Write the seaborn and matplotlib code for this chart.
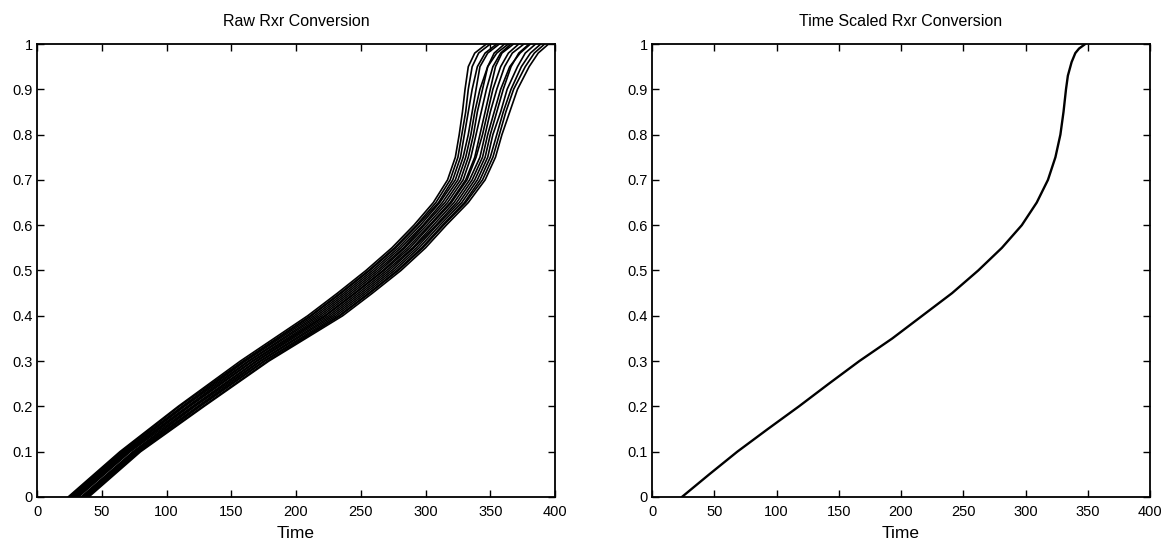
import numpy as np
import pandas as pd
import matplotlib
matplotlib.use('Agg')
import matplotlib.pyplot as plt
import seaborn as sns

# ---------- data ----------
# conversion levels at which each run's time was read
conv_levels = [0.0, 0.1, 0.2, 0.3, 0.4, 0.45, 0.5, 0.55, 0.6, 0.65,
               0.7, 0.75, 0.8, 0.85, 0.9, 0.95, 0.98, 1.0]

# raw runs (time to reach each conversion level)
raw_times = [
    [24, 64, 109, 157, 209, 232, 254, 274, 291, 306, 317, 323, 326, 328.5, 330.5, 333, 338, 347],
    [25, 65, 110, 159, 211, 234, 256, 276, 293, 308, 319, 325, 328, 331, 333, 336, 341, 350],
    [26, 66, 112, 160, 212, 235, 257, 277, 294, 310, 321, 327, 330, 333, 336, 340, 346, 355],
    [27, 67, 113, 161, 214, 237, 259, 279, 296, 311, 323, 329, 333, 336, 339, 342, 348, 357],
    [28, 68, 114, 163, 216, 239, 261, 281, 298, 313, 325, 331, 335, 338, 342, 348, 355, 364],
    [29, 69, 116, 164, 218, 241, 263, 283, 299, 315, 327, 333, 337, 340, 344, 348, 353, 361],
    [30, 70, 117, 166, 220, 243, 265, 284, 301, 317, 329, 335, 339, 343, 347, 352, 358, 366],
    [31, 71, 118, 167, 222, 245, 267, 286, 303, 319, 331, 338, 342, 346, 350, 354, 359, 368],
    [32, 72, 120, 169, 223, 246, 268, 288, 304, 320, 332, 339, 344, 348, 352, 358, 364, 372],
    [34, 74, 121, 170, 225, 248, 270, 290, 306, 322, 334, 342, 346, 350, 355, 361, 367, 376],
    [35, 75, 122, 172, 227, 250, 272, 291, 308, 324, 336, 344, 348, 353, 358, 365, 373, 381],
    [36, 76, 124, 173, 229, 252, 274, 293, 309, 326, 338, 346, 350, 355, 360, 366, 372, 380],
    [37, 77, 125, 175, 231, 254, 276, 295, 311, 328, 340, 348, 352, 358, 363, 371, 377, 385],
    [38, 78, 126, 176, 233, 256, 278, 297, 313, 330, 342, 350, 355, 360, 366, 374, 381, 389],
    [39, 79, 128, 178, 234, 257, 279, 298, 314, 331, 344, 352, 357, 362, 368, 377, 384, 392],
    [40, 80, 129, 179, 236, 259, 281, 300, 316, 333, 346, 354, 359, 365, 371, 380, 387, 395],
]

# time scaled (reference) curve
scaled_conv = [0.0, 0.05, 0.1, 0.15, 0.2, 0.25, 0.3, 0.35, 0.4, 0.45, 0.5, 0.55,
               0.6, 0.65, 0.7, 0.75, 0.8, 0.85, 0.9, 0.93, 0.96, 0.98, 0.99, 1.0]
scaled_time = [24, 46, 68.5, 93, 118, 142, 166.5, 193, 217, 241, 262, 281,
               297, 309, 318, 324, 328, 330.5, 332.5, 334, 337, 340, 343, 348]

x_ticks = [0, 50, 100, 150, 200, 250, 300, 350, 400]
y_ticks = [0, 0.1, 0.2, 0.3, 0.4, 0.5, 0.6, 0.7, 0.8, 0.9, 1]
y_labels = ['0', '0.1', '0.2', '0.3', '0.4', '0.5', '0.6', '0.7', '0.8', '0.9', '1']

# long table for seaborn
df_raw = pd.DataFrame([
    {'run': i, 'Time': t, 'Conversion': c}
    for i, run in enumerate(raw_times)
    for t, c in zip(run, conv_levels)
])
df_scaled = pd.DataFrame({'Time': scaled_time, 'Conversion': scaled_conv})

# ---------- plot ----------
sns.set_style('ticks')
plt.rcParams['font.family'] = ['Liberation Sans', 'DejaVu Sans']
plt.rcParams['text.color'] = 'black'
plt.rcParams['axes.labelcolor'] = 'black'

fig = plt.figure(figsize=(11.71, 5.5), dpi=100)
ax1 = fig.add_axes([0.0316, 0.0964, 0.4424, 0.8236])
ax2 = fig.add_axes([0.5568, 0.0964, 0.4253, 0.8236])

sns.lineplot(data=df_raw, x='Time', y='Conversion', units='run', estimator=None,
             sort=False, color='black', linewidth=1.2, ax=ax1)
sns.lineplot(data=df_scaled, x='Time', y='Conversion', estimator=None,
             sort=False, color='black', linewidth=1.7, ax=ax2)

for ax, title in [(ax1, 'Raw Rxr Conversion'), (ax2, 'Time Scaled Rxr Conversion')]:
    ax.set_xlim(0, 400)
    ax.set_ylim(0, 1)
    ax.set_xticks(x_ticks)
    ax.set_yticks(y_ticks)
    ax.set_yticklabels(y_labels)
    ax.tick_params(direction='in', length=5, width=1, top=True, right=True,
                   labelsize=10.5, colors='black')
    ax.tick_params(axis='x', pad=6)
    ax.tick_params(axis='y', pad=3)
    for s in ax.spines.values():
        s.set_visible(True)
        s.set_linewidth(1.3)
        s.set_color('black')
    ax.set_title(title, fontsize=11.5, pad=13, color='black')
    ax.set_xlabel('Time', fontsize=12.5, labelpad=5, color='black')
    ax.set_ylabel('')
    ax.grid(False)

plt.savefig('out.png', dpi=100)
plt.close()
